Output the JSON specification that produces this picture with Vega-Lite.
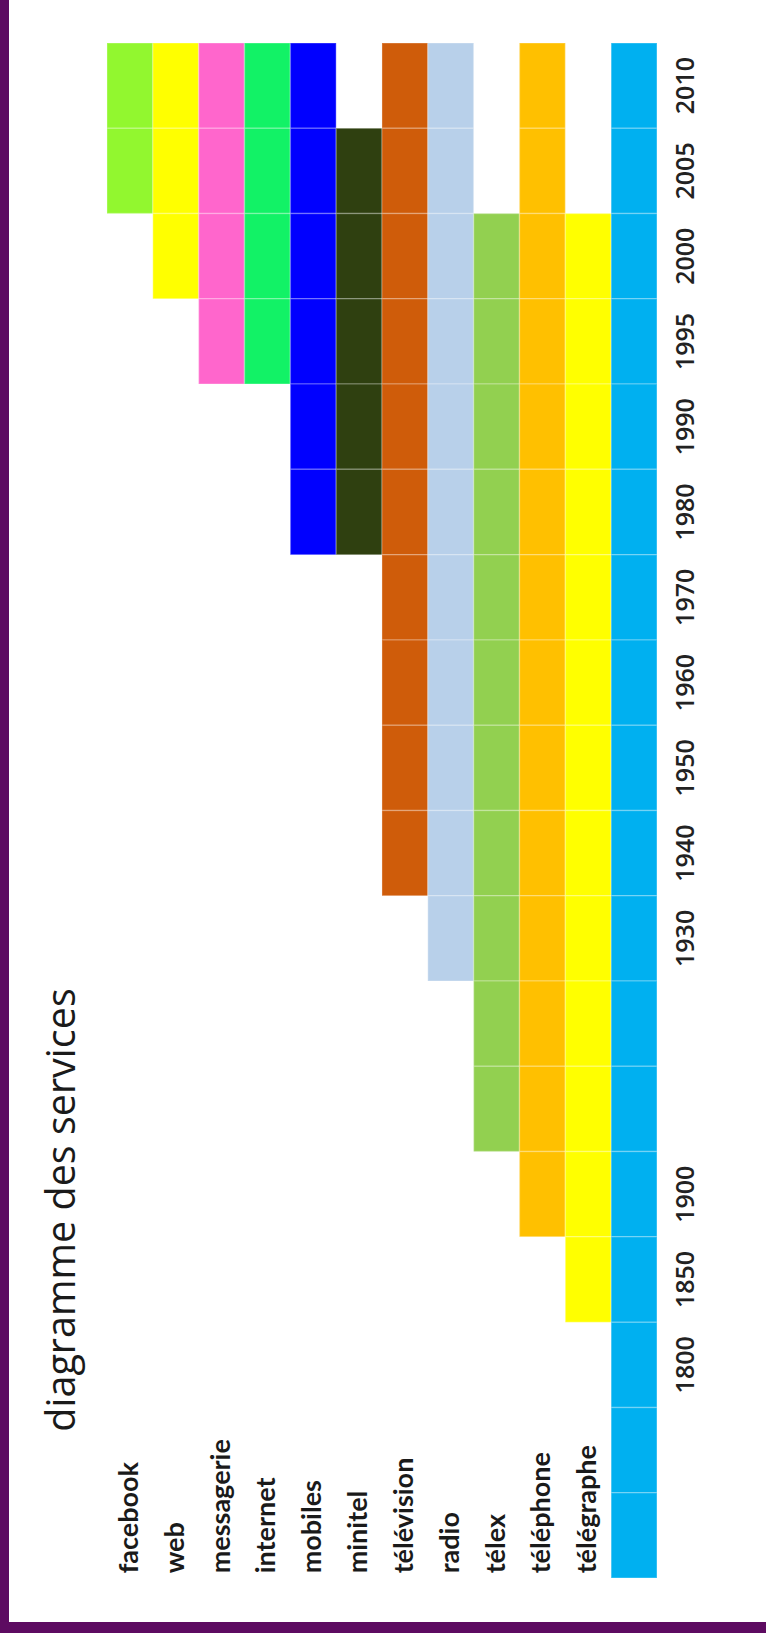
{
  "$schema": "https://vega.github.io/schema/vega-lite/v6.json",
  "autosize": {"type": "fit", "contains": "padding"},
  "width": 766,
  "height": 1633,
  "padding": {"left": 9, "top": 0, "right": 0, "bottom": 11},
  "background": "#5d0b61",
  "config": {"view": {"fill": "white", "stroke": null}},
  "title": {
    "text": "diagramme des services",
    "orient": "left",
    "anchor": "middle",
    "offset": -74,
    "dx": -399,
    "font": "Open Sans",
    "fontSize": 39.5,
    "fontWeight": "normal",
    "color": "#1a1a1a"
  },
  "datasets": {
    "cells": [
      {"service": "facebook", "year": "2010"}, {"service": "facebook", "year": "2005"},
      {"service": "web", "year": "2010"}, {"service": "web", "year": "2005"}, {"service": "web", "year": "2000"},
      {"service": "messagerie", "year": "2010"}, {"service": "messagerie", "year": "2005"}, {"service": "messagerie", "year": "2000"}, {"service": "messagerie", "year": "1995"},
      {"service": "internet", "year": "2010"}, {"service": "internet", "year": "2005"}, {"service": "internet", "year": "2000"}, {"service": "internet", "year": "1995"},
      {"service": "mobiles", "year": "2010"}, {"service": "mobiles", "year": "2005"}, {"service": "mobiles", "year": "2000"}, {"service": "mobiles", "year": "1995"}, {"service": "mobiles", "year": "1990"}, {"service": "mobiles", "year": "1980"},
      {"service": "minitel", "year": "2005"}, {"service": "minitel", "year": "2000"}, {"service": "minitel", "year": "1995"}, {"service": "minitel", "year": "1990"}, {"service": "minitel", "year": "1980"},
      {"service": "télévision", "year": "2010"}, {"service": "télévision", "year": "2005"}, {"service": "télévision", "year": "2000"}, {"service": "télévision", "year": "1995"}, {"service": "télévision", "year": "1990"}, {"service": "télévision", "year": "1980"}, {"service": "télévision", "year": "1970"}, {"service": "télévision", "year": "1960"}, {"service": "télévision", "year": "1950"}, {"service": "télévision", "year": "1940"},
      {"service": "radio", "year": "2010"}, {"service": "radio", "year": "2005"}, {"service": "radio", "year": "2000"}, {"service": "radio", "year": "1995"}, {"service": "radio", "year": "1990"}, {"service": "radio", "year": "1980"}, {"service": "radio", "year": "1970"}, {"service": "radio", "year": "1960"}, {"service": "radio", "year": "1950"}, {"service": "radio", "year": "1940"}, {"service": "radio", "year": "1930"},
      {"service": "télex", "year": "2000"}, {"service": "télex", "year": "1995"}, {"service": "télex", "year": "1990"}, {"service": "télex", "year": "1980"}, {"service": "télex", "year": "1970"}, {"service": "télex", "year": "1960"}, {"service": "télex", "year": "1950"}, {"service": "télex", "year": "1940"}, {"service": "télex", "year": "1930"}, {"service": "télex", "year": "1920"}, {"service": "télex", "year": "1910"},
      {"service": "téléphone", "year": "2010"}, {"service": "téléphone", "year": "2005"}, {"service": "téléphone", "year": "2000"}, {"service": "téléphone", "year": "1995"}, {"service": "téléphone", "year": "1990"}, {"service": "téléphone", "year": "1980"}, {"service": "téléphone", "year": "1970"}, {"service": "téléphone", "year": "1960"}, {"service": "téléphone", "year": "1950"}, {"service": "téléphone", "year": "1940"}, {"service": "téléphone", "year": "1930"}, {"service": "téléphone", "year": "1920"}, {"service": "téléphone", "year": "1910"}, {"service": "téléphone", "year": "1900"},
      {"service": "télégraphe", "year": "2000"}, {"service": "télégraphe", "year": "1995"}, {"service": "télégraphe", "year": "1990"}, {"service": "télégraphe", "year": "1980"}, {"service": "télégraphe", "year": "1970"}, {"service": "télégraphe", "year": "1960"}, {"service": "télégraphe", "year": "1950"}, {"service": "télégraphe", "year": "1940"}, {"service": "télégraphe", "year": "1930"}, {"service": "télégraphe", "year": "1920"}, {"service": "télégraphe", "year": "1910"}, {"service": "télégraphe", "year": "1900"}, {"service": "télégraphe", "year": "1850"},
      {"service": "bande", "year": "2010"}, {"service": "bande", "year": "2005"}, {"service": "bande", "year": "2000"}, {"service": "bande", "year": "1995"}, {"service": "bande", "year": "1990"}, {"service": "bande", "year": "1980"}, {"service": "bande", "year": "1970"}, {"service": "bande", "year": "1960"}, {"service": "bande", "year": "1950"}, {"service": "bande", "year": "1940"}, {"service": "bande", "year": "1930"}, {"service": "bande", "year": "1920"}, {"service": "bande", "year": "1910"}, {"service": "bande", "year": "1900"}, {"service": "bande", "year": "1850"}, {"service": "bande", "year": "1800"}, {"service": "bande", "year": "L1"}, {"service": "bande", "year": "L2"}
    ],
    "services": [
      {"service": "facebook"}, {"service": "web"}, {"service": "messagerie"}, {"service": "internet"}, {"service": "mobiles"}, {"service": "minitel"}, {"service": "télévision"}, {"service": "radio"}, {"service": "télex"}, {"service": "téléphone"}, {"service": "télégraphe"}
    ]
  },
  "layer": [
    {
      "data": {"name": "cells"},
      "mark": {"type": "rect", "stroke": "white", "strokeOpacity": 0.22, "strokeWidth": 1.5},
      "encoding": {
        "x": {
          "field": "service", "type": "nominal",
          "scale": {"domain": ["p1", "p2", "facebook", "web", "messagerie", "internet", "mobiles", "minitel", "télévision", "radio", "télex", "téléphone", "télégraphe", "bande", "p3", "p4"], "paddingInner": 0, "paddingOuter": 0.2585, "align": 0.267},
          "axis": null
        },
        "y": {
          "field": "year", "type": "nominal",
          "scale": {"domain": ["2010", "2005", "2000", "1995", "1990", "1980", "1970", "1960", "1950", "1940", "1930", "1920", "1910", "1900", "1850", "1800", "L1", "L2"], "paddingInner": 0, "paddingOuter": 0.51, "align": 0.494},
          "axis": {
            "orient": "right", "offset": -93, "title": null,
            "values": ["2010", "2005", "2000", "1995", "1990", "1980", "1970", "1960", "1950", "1940", "1930", "1900", "1850", "1800"],
            "domain": false, "ticks": false, "grid": false, "labelPadding": 0,
            "labelAngle": 270, "labelAlign": "center", "labelBaseline": "top",
            "labelFont": "Open Sans", "labelFontSize": 25, "labelFontWeight": 600, "labelColor": "#222222"
          }
        },
        "color": {
          "field": "service", "type": "nominal", "legend": null,
          "scale": {
            "domain": ["facebook", "web", "messagerie", "internet", "mobiles", "minitel", "télévision", "radio", "télex", "téléphone", "télégraphe", "bande"],
            "range": ["#92f72f", "#ffff00", "#ff66cc", "#12f266", "#0000ff", "#2f4010", "#cf5c0a", "#b8d0ea", "#92d050", "#ffc000", "#ffff00", "#00b0f0"]
          }
        }
      }
    },
    {
      "data": {"name": "services"},
      "mark": {"type": "text", "angle": 270, "align": "left", "baseline": "middle", "dx": -38, "font": "Lato", "fontWeight": "bold", "fontSize": 27, "color": "#1a1a1a"},
      "encoding": {
        "x": {"field": "service", "type": "nominal"},
        "y": {"datum": "L2", "type": "nominal"},
        "text": {"field": "service", "type": "nominal"}
      }
    }
  ]
}
